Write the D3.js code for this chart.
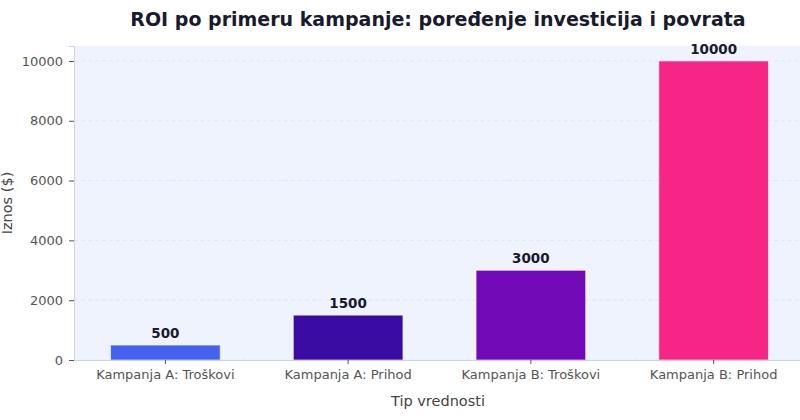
<!DOCTYPE html>
<html>
<head>
<meta charset="utf-8">
<script src="https://cdn.jsdelivr.net/npm/d3@7"></script>
<style>
  body { margin: 0; background: #fff; }
  text { font-family: "DejaVu Sans", sans-serif; }
</style>
</head>
<body>
<div id="chart"></div>
<script>
// podaci
const categories = ["Kampanja A: Troškovi", "Kampanja A: Prihod", "Kampanja B: Troškovi", "Kampanja B: Prihod"];
const values = [500, 1500, 3000, 10000];
const barColors = ["#4361ee", "#3a0ca3", "#7209b7", "#f72585"];
const yTicks = [0, 2000, 4000, 6000, 8000, 10000];

const width = 800, height = 420;
const margin = { top: 46, right: -5, bottom: 60, left: 74 };

const svg = d3.select("#chart").append("svg")
  .attr("width", width)
  .attr("height", height);

const x = d3.scaleBand()
  .domain(categories)
  .range([margin.left, width - margin.right])
  .paddingInner(0.4)
  .paddingOuter(0.2);

const y = d3.scaleLinear()
  .domain([0, 10500])
  .range([height - margin.bottom, margin.top]);

// pozadina
svg.append("rect")
  .attr("x", margin.left)
  .attr("y", margin.top)
  .attr("width", width - margin.left)
  .attr("height", y(0) - margin.top)
  .attr("fill", "#eef3fe");

// mreža
svg.append("g")
  .selectAll("line")
  .data(yTicks)
  .enter().append("line")
  .attr("x1", margin.left)
  .attr("x2", width)
  .attr("y1", d => y(d))
  .attr("y2", d => y(d))
  .attr("stroke", "#dde4f2")
  .attr("stroke-dasharray", "4,3")
  .attr("stroke-width", 0.8);

// stubci
svg.append("g")
  .selectAll("rect")
  .data(values)
  .enter().append("rect")
  .attr("x", (d, i) => x(categories[i]))
  .attr("y", d => y(d))
  .attr("width", x.bandwidth())
  .attr("height", d => y(0) - y(d))
  .attr("fill", (d, i) => barColors[i])
  .attr("stroke", "#ffffff")
  .attr("stroke-opacity", 0.6)
  .attr("stroke-width", 1);

// vrednosti iznad stubaca
svg.append("g")
  .selectAll("text")
  .data(values)
  .enter().append("text")
  .attr("x", (d, i) => x(categories[i]) + x.bandwidth() / 2)
  .attr("y", d => y(d) - 7)
  .attr("text-anchor", "middle")
  .style("font-size", "13.5px")
  .style("font-weight", "bold")
  .style("fill", "#1a1a2e")
  .text(d => d);

// y osa
const yAxis = svg.append("g")
  .attr("transform", `translate(${margin.left},0)`)
  .call(d3.axisLeft(y).tickValues(yTicks).tickFormat(d3.format("d")).tickSize(5).tickPadding(6));
yAxis.select(".domain").attr("stroke", "#c9d6ea");
yAxis.selectAll(".tick line").attr("stroke", "#555");
yAxis.selectAll(".tick text")
  .style("font-size", "13px")
  .style("fill", "#555")
  .style("font-family", "DejaVu Sans, sans-serif");

// x osa
const xAxis = svg.append("g")
  .attr("transform", `translate(0,${y(0)})`)
  .call(d3.axisBottom(x).tickSize(4).tickPadding(6).tickSizeOuter(0));
xAxis.select(".domain").attr("stroke", "#c9d6ea");
xAxis.selectAll(".tick line").attr("stroke", "#555");
xAxis.selectAll(".tick text")
  .style("font-size", "13px")
  .style("fill", "#555")
  .style("font-family", "DejaVu Sans, sans-serif");

// naslovi
svg.append("text")
  .attr("x", 438)
  .attr("y", 26)
  .attr("text-anchor", "middle")
  .style("font-size", "19px")
  .style("font-weight", "bold")
  .style("fill", "#1a1a2e")
  .text("ROI po primeru kampanje: poređenje investicija i povrata");

svg.append("text")
  .attr("x", 438)
  .attr("y", 406)
  .attr("text-anchor", "middle")
  .style("font-size", "14.5px")
  .style("fill", "#444")
  .text("Tip vrednosti");

svg.append("text")
  .attr("transform", `translate(12,${(margin.top + y(0)) / 2}) rotate(-90)`)
  .attr("text-anchor", "middle")
  .style("font-size", "14.5px")
  .style("fill", "#444")
  .text("Iznos ($)");
</script>
</body>
</html>
